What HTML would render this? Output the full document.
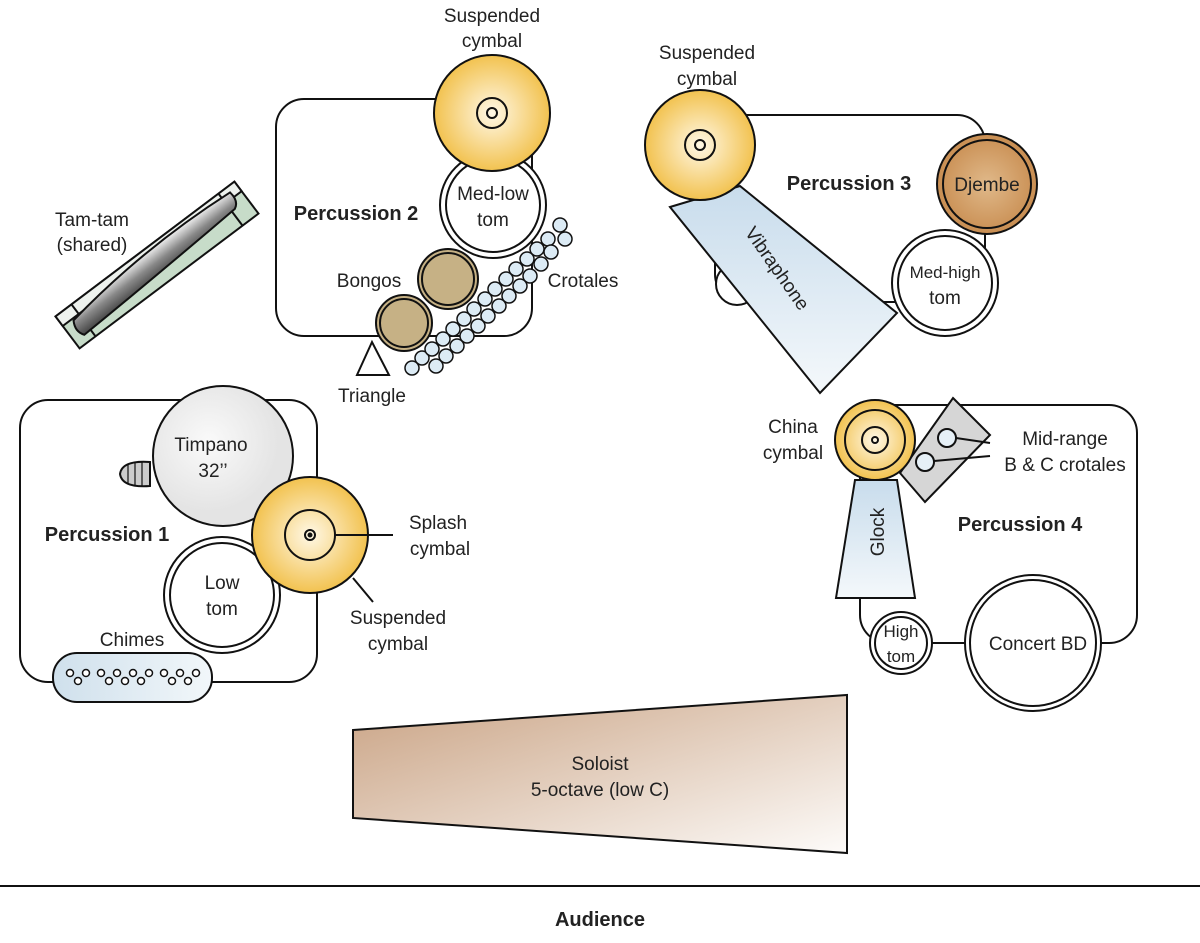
<!DOCTYPE html>
<html><head><meta charset="utf-8"><style>
html,body{margin:0;padding:0;background:#fff}
svg{display:block}
text{font-family:"Liberation Sans","DejaVu Sans",sans-serif;font-size:19px;fill:#222}
.b{font-weight:bold;font-size:20px}
.s{font-size:17px}
</style></head><body>
<svg width="1200" height="943" viewBox="0 0 1200 943" xmlns="http://www.w3.org/2000/svg">
<defs>
<radialGradient id="cy"><stop offset="0" stop-color="#fff8e6"/><stop offset="1" stop-color="#f2c24f"/></radialGradient>
<linearGradient id="bl" x1="0" y1="0" x2="0" y2="1"><stop offset="0" stop-color="#c8dcec"/><stop offset="1" stop-color="#f4f8fb"/></linearGradient>
<linearGradient id="bl2" x1="0" y1="0" x2="1" y2="0"><stop offset="0" stop-color="#cfe0ec"/><stop offset="1" stop-color="#f2f7fa"/></linearGradient>
<linearGradient id="so" x1="0" y1="0" x2="1" y2="1"><stop offset="0" stop-color="#c9a283"/><stop offset="1" stop-color="#fdfbf9"/></linearGradient>
<radialGradient id="dj"><stop offset="0" stop-color="#e0b98a"/><stop offset="1" stop-color="#c98e52"/></radialGradient>
<radialGradient id="ti" cx="0.4" cy="0.4"><stop offset="0" stop-color="#fafafa"/><stop offset="1" stop-color="#e4e4e4"/></radialGradient>
<linearGradient id="tt" x1="0" y1="0" x2="0" y2="1"><stop offset="0" stop-color="#f0f0f0"/><stop offset="0.5" stop-color="#888"/><stop offset="1" stop-color="#444"/></linearGradient>
</defs>
<g stroke="#111" stroke-width="2" fill="none">
<rect x="276" y="99" width="256" height="237" rx="28" fill="#fff"/>
<rect x="20" y="400" width="297" height="282" rx="28" fill="#fff"/>
<rect x="715" y="115" width="270" height="187" rx="28" fill="#fff"/>
<rect x="860" y="405" width="277" height="238" rx="28" fill="#fff"/>
<circle cx="737" cy="284" r="21" fill="#fff"/>

<g transform="translate(157,265) rotate(-37)">
<rect x="-112" y="-20" width="224" height="40" fill="#c7dcc9"/>
<rect x="-112" y="-20" width="224" height="12" fill="#eef2ee"/>
<line x1="-92" y1="-20" x2="-92" y2="20"/><line x1="92" y1="-20" x2="92" y2="20"/>
<path d="M-100 -6 Q0 -22 102 -14 Q104 -2 96 2 Q0 8 -100 12 Q-106 4 -100 -6Z" fill="url(#tt)"/>
</g>

<circle cx="493" cy="205" r="53" fill="#fff"/><circle cx="493" cy="205" r="47"/>
<circle cx="492" cy="113" r="58" fill="url(#cy)"/>
<circle cx="492" cy="113" r="15"/><circle cx="492" cy="113" r="5"/>
<circle cx="448" cy="279" r="30" fill="#c6b185"/><circle cx="448" cy="279" r="26"/>
<circle cx="404" cy="323" r="28" fill="#c6b185"/><circle cx="404" cy="323" r="24"/>
<polygon points="372,342 357,375 389,375" fill="#fff"/>
<g fill="#dcebf5" stroke-width="1.5">
<circle cx="412" cy="368" r="7"/><circle cx="422" cy="358" r="7"/><circle cx="432" cy="349" r="7"/><circle cx="443" cy="339" r="7"/><circle cx="453" cy="329" r="7"/><circle cx="464" cy="319" r="7"/><circle cx="474" cy="309" r="7"/><circle cx="485" cy="299" r="7"/><circle cx="495" cy="289" r="7"/><circle cx="506" cy="279" r="7"/><circle cx="516" cy="269" r="7"/><circle cx="527" cy="259" r="7"/><circle cx="537" cy="249" r="7"/><circle cx="548" cy="239" r="7"/><circle cx="560" cy="225" r="7"/>
<circle cx="436" cy="366" r="7"/><circle cx="446" cy="356" r="7"/><circle cx="457" cy="346" r="7"/><circle cx="467" cy="336" r="7"/><circle cx="478" cy="326" r="7"/><circle cx="488" cy="316" r="7"/><circle cx="499" cy="306" r="7"/><circle cx="509" cy="296" r="7"/><circle cx="520" cy="286" r="7"/><circle cx="530" cy="276" r="7"/><circle cx="541" cy="264" r="7"/><circle cx="551" cy="252" r="7"/><circle cx="565" cy="239" r="7"/>
</g>

<path d="M150 462 Q122 460 120 474 Q122 488 150 486Z" fill="#ccc"/>
<g stroke-width="1.2"><line x1="128" y1="464" x2="128" y2="484"/><line x1="135" y1="462" x2="135" y2="486"/><line x1="142" y1="462" x2="142" y2="486"/></g>
<circle cx="223" cy="456" r="70" fill="url(#ti)"/>
<circle cx="222" cy="595" r="58" fill="#fff"/><circle cx="222" cy="595" r="52"/>
<circle cx="310" cy="535" r="58" fill="url(#cy)"/>
<circle cx="310" cy="535" r="25"/><circle cx="310" cy="535" r="5"/><circle cx="310" cy="535" r="1.5" fill="#111"/>
<line x1="335" y1="535" x2="393" y2="535"/>
<line x1="353" y1="578" x2="373" y2="602"/>
<rect x="53" y="653" width="159" height="49" rx="24" fill="url(#bl2)"/>
<g stroke-width="1.5" fill="#fff">
<circle cx="70" cy="673" r="3.5"/><circle cx="78" cy="681" r="3.5"/><circle cx="86" cy="673" r="3.5"/>
<circle cx="101" cy="673" r="3.5"/><circle cx="109" cy="681" r="3.5"/><circle cx="117" cy="673" r="3.5"/><circle cx="125" cy="681" r="3.5"/><circle cx="133" cy="673" r="3.5"/><circle cx="141" cy="681" r="3.5"/><circle cx="149" cy="673" r="3.5"/>
<circle cx="164" cy="673" r="3.5"/><circle cx="172" cy="681" r="3.5"/><circle cx="180" cy="673" r="3.5"/><circle cx="188" cy="681" r="3.5"/><circle cx="196" cy="673" r="3.5"/>
</g>

<polygon points="670,207 740,186 897,313 820,393" fill="url(#bl)"/>
<circle cx="700" cy="145" r="55" fill="url(#cy)"/>
<circle cx="700" cy="145" r="15"/><circle cx="700" cy="145" r="5"/>
<circle cx="987" cy="184" r="50" fill="url(#dj)"/><circle cx="987" cy="184" r="44"/>
<circle cx="945" cy="283" r="53" fill="#fff"/><circle cx="945" cy="283" r="47"/>

<polygon points="855,480 897,480 915,598 836,598" fill="url(#bl)"/>
<polygon points="953,398 990,435 925,502 900,473" fill="#d6d6d6"/>
<circle cx="875" cy="440" r="40" fill="url(#cy)"/><circle cx="875" cy="440" r="30"/>
<circle cx="875" cy="440" r="13"/><circle cx="875" cy="440" r="3"/>
<circle cx="947" cy="438" r="9" fill="#e6f0f7"/><circle cx="925" cy="462" r="9" fill="#e6f0f7"/>
<line x1="956" y1="438" x2="990" y2="443"/><line x1="934" y1="461" x2="990" y2="456"/>
<line x1="932" y1="643" x2="965" y2="643"/>
<circle cx="901" cy="643" r="31" fill="#fff"/><circle cx="901" cy="643" r="26"/>
<circle cx="1033" cy="643" r="68" fill="#fff"/><circle cx="1033" cy="643" r="63"/>

<polygon points="353,730 847,695 847,853 353,818" fill="url(#so)"/>
<line x1="0" y1="886" x2="1200" y2="886"/>
</g>

<g text-anchor="middle">
<text x="492" y="22">Suspended</text><text x="492" y="47">cymbal</text>
<text x="356" y="220" class="b">Percussion 2</text>
<text x="493" y="200">Med-low</text><text x="493" y="226">tom</text>
<text x="369" y="287">Bongos</text>
<text x="583" y="287">Crotales</text>
<text x="372" y="402">Triangle</text>
<text x="92" y="226">Tam-tam</text><text x="92" y="251">(shared)</text>
<text x="211" y="451">Timpano</text><text x="213" y="477">32’’</text>
<text x="107" y="541" class="b">Percussion 1</text>
<text x="222" y="589">Low</text><text x="222" y="615">tom</text>
<text x="132" y="646">Chimes</text>
<text x="438" y="529">Splash</text><text x="440" y="555">cymbal</text>
<text x="398" y="624">Suspended</text><text x="398" y="650">cymbal</text>
<text x="707" y="59">Suspended</text><text x="707" y="85">cymbal</text>
<text x="849" y="190" class="b">Percussion 3</text>
<text x="987" y="191">Djembe</text>
<text x="945" y="278" class="s">Med-high</text><text x="945" y="304">tom</text>
<text x="772" y="272" transform="rotate(55 772 272)">Vibraphone</text>
<text x="793" y="433">China</text><text x="793" y="459">cymbal</text>
<text x="1065" y="445">Mid-range</text><text x="1065" y="471">B &amp; C crotales</text>
<text x="1020" y="531" class="b">Percussion 4</text>
<text x="884" y="532" transform="rotate(-90 884 532)">Glock</text>
<text x="901" y="637" class="s">High</text><text x="901" y="662" class="s">tom</text>
<text x="1038" y="650">Concert BD</text>
<text x="600" y="770">Soloist</text><text x="600" y="796">5-octave (low C)</text>
<text x="600" y="926" class="b">Audience</text>
</g>
</svg>
</body></html>
